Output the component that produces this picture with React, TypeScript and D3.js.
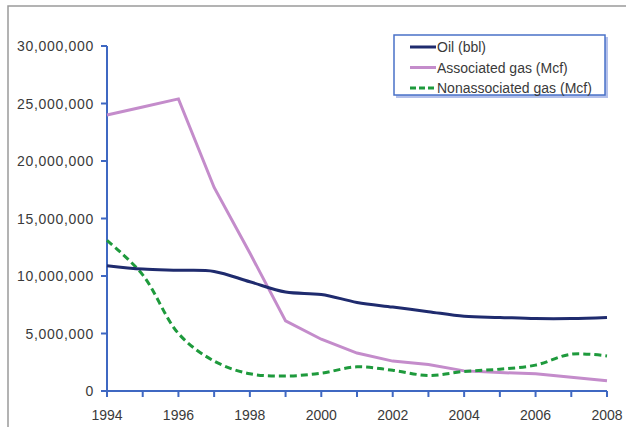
import React, {useEffect, useRef} from "react";
import * as d3 from "d3";

const years = [1994, 1995, 1996, 1997, 1998, 1999, 2000, 2001, 2002, 2003, 2004, 2005, 2006, 2007, 2008];
const oil = [10.9, 10.6, 10.5, 10.4, 9.5, 8.6, 8.4, 7.7, 7.3, 6.9, 6.5, 6.4, 6.3, 6.3, 6.4].map((v) => v * 1e6);
const assocGas = [24.0, 24.7, 25.4, 17.7, 12.0, 6.1, 4.5, 3.3, 2.6, 2.3, 1.75, 1.6, 1.5, 1.2, 0.9].map((v) => v * 1e6);
const nonassocGas = [13.1, 10.1, 5.0, 2.6, 1.5, 1.3, 1.55, 2.1, 1.8, 1.35, 1.7, 1.9, 2.25, 3.2, 3.05].map((v) => v * 1e6);
const yTicks = [0, 5e6, 10e6, 15e6, 20e6, 25e6, 30e6];
const xTickLabels = [1994, 1996, 1998, 2000, 2002, 2004, 2006, 2008];
const seriesNames = ["Oil (bbl)", "Associated gas (Mcf)", "Nonassociated gas (Mcf)"];

const axisColor = "#3f68c2";
const textColor = "#3a3a3a";

export default function App() {
  const svgRef = useRef<SVGSVGElement>(null);

  useEffect(() => {
    const svg = d3.select(svgRef.current);
    svg.selectAll("*").remove();

    let xScale = d3.scaleLinear().domain([1994, 2008]).range([107, 607]);
    let yScale = d3.scaleLinear().domain([0, 30e6]).range([391, 46]);

    // outer frame
    svg.append("path")
      .attr("d", "M8,430 L8,6 L630,6")
      .attr("fill", "none")
      .attr("stroke", "#9a9a9a")
      .attr("stroke-width", 1.5);

    // y axis
    let yAxis = svg.append("g").attr("transform", "translate(107,0)");
    yAxis.append("line")
      .attr("x1", 0).attr("x2", 0)
      .attr("y1", yScale(30e6)).attr("y2", yScale(0))
      .attr("stroke", axisColor).attr("stroke-width", 2);
    yAxis.selectAll("line.tick")
      .data(yTicks)
      .join("line")
      .attr("class", "tick")
      .attr("x1", -6).attr("x2", 0)
      .attr("y1", (d) => yScale(d)).attr("y2", (d) => yScale(d))
      .attr("stroke", axisColor).attr("stroke-width", 2);
    yAxis.selectAll("text")
      .data(yTicks)
      .join("text")
      .attr("x", -13)
      .attr("y", (d) => yScale(d))
      .attr("dy", "0.36em")
      .attr("text-anchor", "end")
      .attr("font-family", "Liberation Sans, Arial, sans-serif")
      .attr("font-size", 14)
      .attr("letter-spacing", 0.7)
      .attr("fill", textColor)
      .text((d) => d3.format(",")(d));

    // x axis
    let xAxis = svg.append("g").attr("transform", "translate(0,391)");
    xAxis.append("line")
      .attr("x1", xScale(1994)).attr("x2", xScale(2008))
      .attr("y1", 0).attr("y2", 0)
      .attr("stroke", axisColor).attr("stroke-width", 2);
    xAxis.selectAll("line.tick")
      .data(years)
      .join("line")
      .attr("class", "tick")
      .attr("x1", (d) => xScale(d)).attr("x2", (d) => xScale(d))
      .attr("y1", 0).attr("y2", 6)
      .attr("stroke", axisColor).attr("stroke-width", 2);
    xAxis.selectAll("text")
      .data(xTickLabels)
      .join("text")
      .attr("x", (d) => xScale(d))
      .attr("y", 29)
      .attr("text-anchor", "middle")
      .attr("font-family", "Liberation Sans, Arial, sans-serif")
      .attr("font-size", 14)
      .attr("fill", textColor)
      .text((d) => d);

    // series
    let smooth = d3.line<number>()
      .x((d, i) => xScale(years[i]))
      .y((d) => yScale(d))
      .curve(d3.curveCatmullRom.alpha(0.5));
    let straight = d3.line<number>()
      .x((d, i) => xScale(years[i]))
      .y((d) => yScale(d));

    svg.append("path")
      .attr("d", straight(assocGas))
      .attr("fill", "none")
      .attr("stroke", "#c48ccb")
      .attr("stroke-width", 3);
    svg.append("path")
      .attr("d", smooth(nonassocGas))
      .attr("fill", "none")
      .attr("stroke", "#1e9a3c")
      .attr("stroke-width", 3)
      .attr("stroke-dasharray", "7,4");
    svg.append("path")
      .attr("d", smooth(oil))
      .attr("fill", "none")
      .attr("stroke", "#1f2b6e")
      .attr("stroke-width", 3);

    // legend
    let legend = svg.append("g");
    legend.append("rect")
      .attr("x", 396).attr("y", 37)
      .attr("width", 212).attr("height", 61)
      .attr("fill", "#b3c0ea");
    legend.append("rect")
      .attr("x", 394).attr("y", 35)
      .attr("width", 211).attr("height", 60)
      .attr("fill", "#fff")
      .attr("stroke", "#4a72c8")
      .attr("stroke-width", 1.5);

    let styles = [
      {color: "#1f2b6e", dash: null},
      {color: "#c48ccb", dash: null},
      {color: "#1e9a3c", dash: "6,3"},
    ];
    let rows = legend.selectAll("g.row")
      .data(seriesNames)
      .join("g")
      .attr("class", "row")
      .attr("transform", (d, i) => "translate(0," + (47 + i * 20.5) + ")");
    rows.append("line")
      .attr("x1", 410).attr("x2", 436)
      .attr("y1", 0).attr("y2", 0)
      .attr("stroke", (d, i) => styles[i].color)
      .attr("stroke-width", 3)
      .attr("stroke-dasharray", (d, i) => styles[i].dash);
    rows.append("text")
      .attr("x", 437)
      .attr("y", 0)
      .attr("dy", "0.36em")
      .attr("font-family", "Liberation Sans, Arial, sans-serif")
      .attr("font-size", 14)
      .attr("fill", textColor)
      .text((d) => d);
  }, []);

  return (
    <svg
      ref={svgRef}
      width={626}
      height={427}
      style={{position: "absolute", left: 0, top: 0, background: "#fff"}}
    />
  );
}
